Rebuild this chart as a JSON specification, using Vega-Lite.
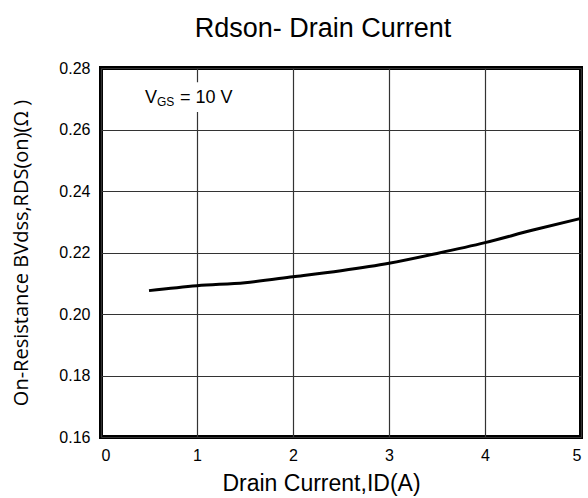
{
  "$schema": "https://vega.github.io/schema/vega-lite/v6.json",
  "width": 480,
  "height": 369,
  "autosize": {"type": "none"},
  "padding": {"left": 101, "top": 68, "right": 7, "bottom": 61},
  "background": "white",
  "title": {"text": "Rdson- Drain Current", "font": "Liberation Sans", "fontSize": 27, "fontWeight": "normal", "color": "black", "anchor": "middle", "dx": -18, "offset": 17},
  "config": {
    "view": {"stroke": "black", "strokeWidth": 4},
    "axis": {"domain": false, "ticks": false, "grid": true, "gridColor": "#333", "gridWidth": 1.2, "gridOpacity": 1, "labelColor": "black", "titleColor": "black", "labelFont": "Liberation Sans", "labelFontSize": 16, "titleFontWeight": "normal"}
  },
  "datasets": {
    "curve": [
      {"id": 0.5, "r": 0.2076},
      {"id": 1.0, "r": 0.2092},
      {"id": 1.5, "r": 0.2102},
      {"id": 2.0, "r": 0.2121},
      {"id": 2.5, "r": 0.2141},
      {"id": 3.0, "r": 0.2165},
      {"id": 3.5, "r": 0.2197},
      {"id": 4.0, "r": 0.2232},
      {"id": 4.5, "r": 0.2273},
      {"id": 5.0, "r": 0.2311}
    ],
    "box": [{"x1": 0.41, "x2": 1.45, "y1": 0.2657, "y2": 0.2754}],
    "label": [{"ax": 0.458, "ay": 0.2686}]
  },
  "layer": [
    {
      "data": {"name": "curve"},
      "mark": {"type": "line", "color": "black", "strokeWidth": 3, "interpolate": "monotone"},
      "encoding": {
        "x": {"field": "id", "type": "quantitative", "scale": {"domain": [0, 5], "nice": false, "zero": false},
              "axis": {"values": [0, 1, 2, 3, 4, 5], "format": "d", "labelPadding": 10, "title": "Drain Current,ID(A)", "titleFont": "Liberation Sans", "titleFontSize": 23, "titleX": 220, "titlePadding": 9}},
        "y": {"field": "r", "type": "quantitative", "scale": {"domain": [0.16, 0.28], "nice": false, "zero": false},
              "axis": {"values": [0.16, 0.18, 0.2, 0.22, 0.24, 0.26, 0.28], "format": ".2f", "labelPadding": 11, "title": "On-Resistance BVdss,RDS(on)(Ω )", "titleFont": "Open Sans", "titleFontSize": 20, "titlePadding": 27}}
      }
    },
    {
      "data": {"name": "box"},
      "mark": {"type": "rect", "fill": "white"},
      "encoding": {
        "x": {"field": "x1", "type": "quantitative"},
        "x2": {"field": "x2"},
        "y": {"field": "y1", "type": "quantitative"},
        "y2": {"field": "y2"}
      }
    },
    {
      "data": {"name": "label"},
      "mark": {"type": "text", "text": "V", "font": "Liberation Sans", "fontSize": 18, "align": "left", "baseline": "alphabetic", "color": "black"},
      "encoding": {"x": {"field": "ax", "type": "quantitative"}, "y": {"field": "ay", "type": "quantitative"}}
    },
    {
      "data": {"name": "label"},
      "mark": {"type": "text", "text": "GS", "font": "Liberation Sans", "fontSize": 12, "align": "left", "baseline": "alphabetic", "dx": 12, "dy": 3, "color": "black"},
      "encoding": {"x": {"field": "ax", "type": "quantitative"}, "y": {"field": "ay", "type": "quantitative"}}
    },
    {
      "data": {"name": "label"},
      "mark": {"type": "text", "text": "= 10 V", "font": "Liberation Sans", "fontSize": 18, "align": "left", "baseline": "alphabetic", "dx": 35, "color": "black"},
      "encoding": {"x": {"field": "ax", "type": "quantitative"}, "y": {"field": "ay", "type": "quantitative"}}
    }
  ]
}
